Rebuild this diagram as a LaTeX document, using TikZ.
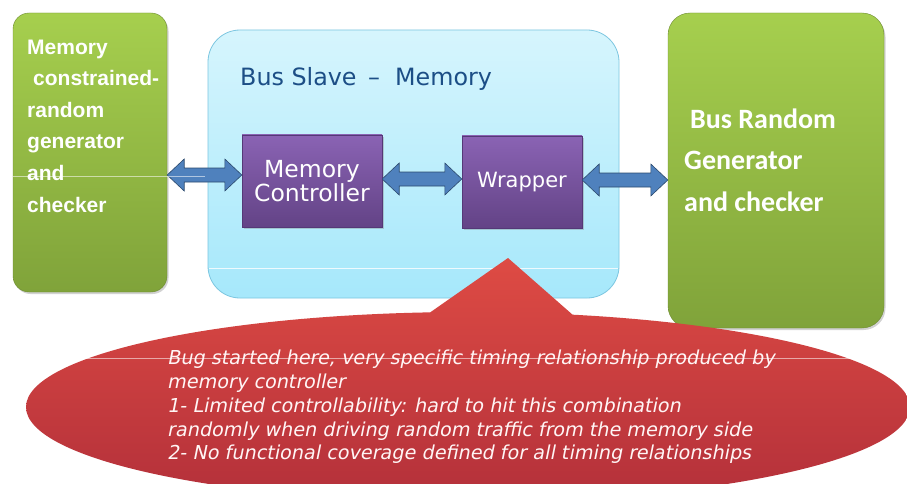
\documentclass[tikz,border=0pt]{standalone}
\usepackage{fontspec}
\setmainfont{Liberation Sans}
\newfontfamily\verdfont{DejaVu Sans}
\newfontfamily\calfont{Carlito}
\newfontfamily\notefont{DejaVu Sans}[FakeSlant=0.2]
\usetikzlibrary{calc,shadows}

\definecolor{greenTop}{HTML}{A6CF4E}
\definecolor{greenBot}{HTML}{80A33A}
\definecolor{skyTop}{HTML}{D6F5FD}
\definecolor{skyBot}{HTML}{A6E8FB}
\definecolor{skyEdge}{HTML}{7CC6E0}
\definecolor{violetTop}{HTML}{8A63B4}
\definecolor{violetBot}{HTML}{634386}
\definecolor{violetEdge}{HTML}{553877}
\definecolor{steel}{HTML}{4F81BD}
\definecolor{steelEdge}{HTML}{2C4A6E}
\definecolor{titleBlue}{HTML}{1C4E86}
\definecolor{redTop}{HTML}{DE4B44}
\definecolor{redBot}{HTML}{B3303A}

\tikzset{
  genbox/.style={rounded corners=18pt, top color=greenTop, bottom color=greenBot,
    draw=greenBot!85!black, line width=0.4pt,
    drop shadow={shadow xshift=1.5pt, shadow yshift=-2pt, opacity=0.35}},
  slavebox/.style={rounded corners=32pt, top color=skyTop, bottom color=skyBot,
    draw=skyEdge, line width=0.8pt},
  blockbox/.style={top color=violetTop, bottom color=violetBot, draw=violetEdge,
    line width=0.4pt, text=white, font=\verdfont\fontsize{23.5}{27}\selectfont,
    align=center, drop shadow={shadow xshift=1.5pt, shadow yshift=-2pt, opacity=0.35}},
  twowaystyle/.style={fill=steel, draw=steelEdge, line width=0.6pt, line join=miter},
  gentext/.style={text=white, align=left, inner sep=0pt},
  highlight/.style={white, opacity=0.55, line width=0.8pt}
}

% double-headed block arrow between two named points
\newcommand\twoway[2]{%
  \draw[twowaystyle] (#1) -- ($(#1)+(17,-16)$) -- ($(#1)+(17,-7)$) --
    ($(#2)+(-17,-7)$) -- ($(#2)+(-17,-16)$) -- (#2) -- ($(#2)+(-17,16)$) --
    ($(#2)+(-17,7)$) -- ($(#1)+(17,7)$) -- ($(#1)+(17,16)$) -- cycle;}

\begin{document}
\begin{tikzpicture}[x=1pt, y=-1pt]
\useasboundingbox (0,0) rectangle (907,484);
\fill[white] (0,0) rectangle (907,484);

% generator / checker blocks
\node[genbox, minimum width=154pt, minimum height=279pt, rounded corners=16pt] (lgen) at (90,152.5) {};
\node[genbox, minimum width=216pt, minimum height=315pt, rounded corners=22pt] (rgen) at (776,170.5) {};

% bus slave container
\node[slavebox, minimum width=411pt, minimum height=268pt] (slave) at (413.5,164) {};
\draw[highlight, opacity=0.8] ($(slave.west |- 0,268)+(1,0)$) -- ($(slave.east |- 0,268)+(-1,0)$);
\node[anchor=base west, inner sep=0pt, text=titleBlue, font=\verdfont\fontsize{23.8}{27}\selectfont]
  (title) at (240,86) {Bus Slave \,–\ \ Memory};

% inner blocks
\node[blockbox, minimum width=140pt, minimum height=92pt] (mc) at (312,181) {Memory\\[-3pt]Controller};
\node[blockbox, minimum width=120pt, minimum height=92pt,
  font=\verdfont\fontsize{21}{24}\selectfont] (wr) at (522,182) {Wrapper};

% connections
\coordinate (a1) at (lgen.east |- 0,175);
\coordinate (a2) at (mc.west |- 0,175);
\coordinate (b1) at (mc.east |- 0,179);
\coordinate (b2) at (wr.west |- 0,179);
\coordinate (c1) at (wr.east |- 0,180);
\coordinate (c2) at (rgen.west |- 0,180);
\twoway{a1}{a2}
\twoway{b1}{b2}
\twoway{c1}{c2}

% block texts
\node[gentext, anchor=north west, font=\bfseries\fontsize{21}{31.6}\selectfont] (ltext) at (27,39.5)
  {Memory\\\hspace*{6pt}constrained-\\random\\generator\\and\\checker};
\node[gentext, anchor=north west, font=\calfont\bfseries\fontsize{28}{41.5}\selectfont] (rtext) at (684,108.5)
  {\hspace*{6pt}Bus Random\\Generator\\and checker};
\draw[highlight] (lgen.west |- 0,176) -- (205,176);

% callout
\shade[top color=redTop, bottom color=redBot]
  (468,407) ellipse [x radius=442, y radius=95]
  (508,258) -- (590,330) -- (405,330) -- cycle;
\node[gentext, anchor=north west, text=white!96!red,
  font=\notefont\fontsize{19.2}{23.8}\selectfont] (note) at (167,350)
  {Bug started here, very specific timing relationship produced by\\
   memory controller\\
   1- Limited controllability: hard to hit this combination\\
   randomly when driving random traffic from the memory side\\
   2- No functional coverage defined for all timing relationships};
\draw[highlight] (85,358) -- (862,358);
\end{tikzpicture}
\end{document}
